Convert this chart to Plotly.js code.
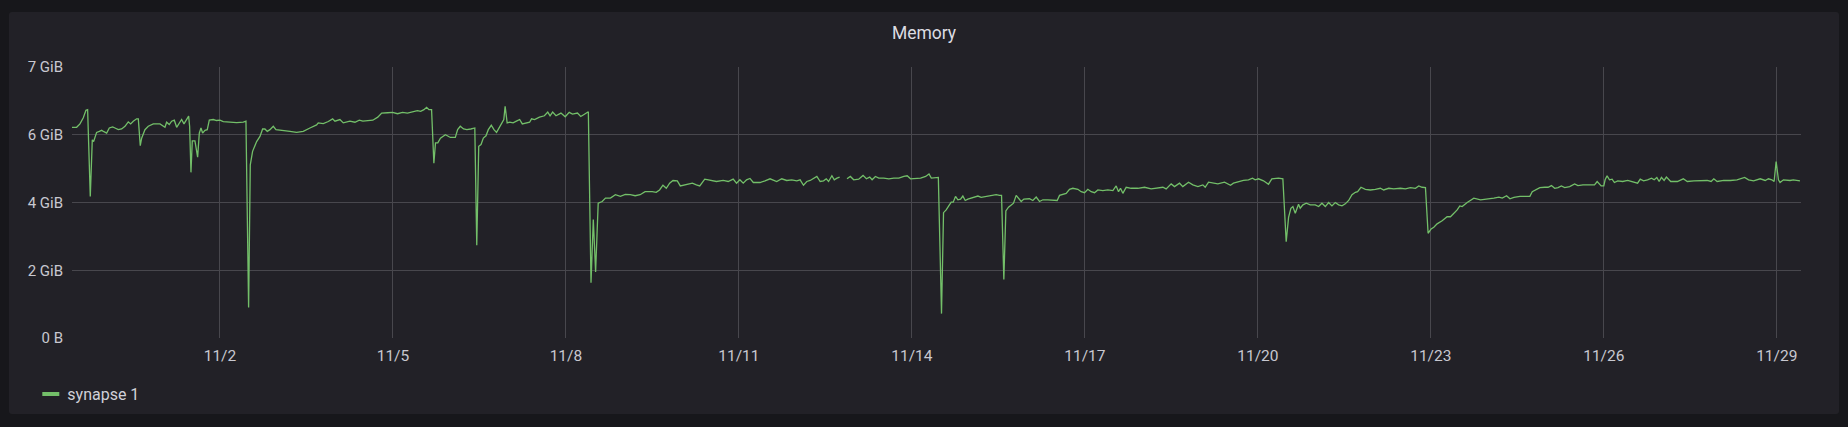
<!DOCTYPE html>
<html>
<head>
<meta charset="utf-8">
<script src="https://cdn.plot.ly/plotly-3.0.1.min.js"></script>
<style>
  html, body { margin: 0; padding: 0; background: #17171b; }
  #panel {
    position: absolute; left: 9px; top: 12px;
    width: 1830px; height: 402px;
    background: #222127; border-radius: 3px;
  }
</style>
</head>
<body>
<div id="panel"></div>
<script>
// days since 2020-11-01 00:00, memory in GiB (null = missing scrape)
const dayOffset = [
  // 10/30 - 11/3
  -1.566,-1.486,-1.428,-1.370,-1.324,-1.295,-1.249,-1.214,-1.191,-1.139,-1.092,-1.052,-1.012,-0.965,-0.919,-0.861,-0.821,-0.763,-0.705,-0.647,-0.590,-0.549,-0.503,-0.445,-0.416,-0.382,-0.358,-0.301,-0.243,-0.156,-0.040,0.046,0.075,0.121,0.162,0.208,0.249,0.295,0.335,0.376,0.422,0.457,0.474,0.497,0.520,0.566,0.613,0.642,0.671,0.699,0.740,0.780,0.815,0.884,0.942,1.000,1.058,1.173,1.289,1.405,1.451,1.497,1.526,1.566,1.636,1.694,1.740,1.780,1.821,1.867,1.925,1.971,2.040,2.214,2.329,2.445,2.561,2.676,2.705,2.792,2.879,2.954,2.994,3.081,3.139,3.254,3.341,3.416,
  // 11/4 - 11/9
  3.479,3.565,3.651,3.737,3.805,3.908,3.994,4.080,4.166,4.252,4.338,4.424,4.481,4.538,4.584,4.624,4.670,4.710,4.738,4.778,4.824,4.910,4.996,5.082,5.122,5.168,5.225,5.282,5.351,5.420,5.454,5.488,5.528,5.568,5.614,5.654,5.706,5.752,5.797,5.843,5.900,5.923,5.946,5.981,6.026,6.084,6.141,6.198,6.244,6.313,6.370,6.404,6.456,6.541,6.627,6.685,6.725,6.770,6.828,6.914,6.988,7.057,7.114,7.200,7.257,7.314,7.389,7.435,7.475,7.515,7.560,7.629,7.686,7.772,7.858,7.944,8.030,8.116,8.201,8.287,8.373,
  // 11/9 - 11/14
  8.497,8.566,8.624,8.683,8.741,8.799,8.857,8.932,8.984,9.089,9.193,9.263,9.321,9.408,9.495,9.611,9.727,9.814,9.901,9.959,10.017,10.075,10.133,10.192,10.250,10.366,10.453,10.540,10.656,10.743,10.830,10.917,11.004,11.062,11.120,11.178,11.236,11.306,11.352,11.410,11.468,11.515,11.555,11.613,11.654,11.701,11.747,11.81,11.875,11.933,11.991,12.078,12.153,12.211,12.269,12.310,12.368,12.426,12.513,12.600,12.687,12.774,12.861,12.919,12.977,13.064,13.151,13.239,13.297,13.337,13.413,13.459,
  // 11/14 - 11/19
  13.514,13.549,13.595,13.636,13.682,13.717,13.757,13.798,13.844,13.884,13.925,13.971,14.029,14.087,14.145,14.202,14.289,14.376,14.462,14.520,14.555,14.595,14.630,14.676,14.723,14.763,14.809,14.850,14.896,14.942,15.040,15.098,15.156,15.214,15.272,15.358,15.445,15.520,15.561,15.618,15.676,15.734,15.792,15.879,15.936,15.994,16.052,16.110,16.168,16.225,16.312,16.399,16.486,16.543,16.584,16.618,16.659,16.717,16.803,16.919,17.035,17.150,17.266,17.353,17.410,17.497,17.555,17.642,17.699,17.798,17.873,17.960,18.046,18.087,18.145,18.220,18.306,18.422,18.526,
  // 11/19 - 11/24
  18.577,18.664,18.751,18.838,18.907,18.954,19.012,19.098,19.185,19.243,19.301,19.359,19.434,19.492,19.533,19.573,19.608,19.649,19.706,19.735,19.782,19.840,19.909,19.996,20.054,20.112,20.170,20.228,20.285,20.343,20.401,20.459,20.517,20.575,20.633,20.691,20.731,20.789,20.864,20.951,21.038,21.125,21.183,21.270,21.357,21.472,21.559,21.646,21.733,21.791,21.849,21.907,21.953,22.005,22.052,22.109,22.196,22.283,22.341,22.399,22.457,22.503,22.544,22.631,22.688,22.746,22.862,22.978,23.094,23.181,23.239,23.314,23.372,23.441,23.545,
  // 11/24 - 11/29
  23.632,23.718,23.759,23.805,23.891,23.977,24.034,24.092,24.149,24.207,24.264,24.322,24.408,24.494,24.552,24.638,24.724,24.839,24.885,24.954,25.000,25.023,25.057,25.098,25.144,25.184,25.241,25.328,25.414,25.500,25.586,25.632,25.690,25.759,25.828,25.874,25.920,25.960,26.000,26.046,26.086,26.161,26.276,26.379,26.448,26.563,26.678,26.793,26.862,26.908,26.966,27.080,27.195,27.310,27.443,27.511,27.598,27.713,27.799,27.856,27.914,27.954,27.989,28.029,28.057,28.115,28.230,28.287,28.402
];

const memGiB = [
  // 10/30 - 11/3
  6.22,6.22,6.32,6.50,6.72,6.74,4.18,5.85,5.80,6.07,6.10,6.13,6.09,6.05,6.20,6.23,6.20,6.15,6.17,6.25,6.38,6.32,6.40,6.47,6.47,5.68,5.90,6.15,6.25,6.32,6.32,6.22,6.37,6.30,6.40,6.43,6.22,6.35,6.45,6.32,6.47,6.55,6.25,4.89,5.82,5.82,5.34,6.05,6.20,6.05,6.13,6.15,6.43,6.45,6.42,6.43,6.39,6.37,6.36,6.37,6.40,0.90,5.11,5.51,5.80,5.95,6.17,6.17,6.10,6.15,6.25,6.15,6.13,6.10,6.07,6.10,6.20,6.29,6.35,6.33,6.39,6.47,6.40,6.45,6.35,6.40,6.37,6.43,
  // 11/4 - 11/9
  6.40,6.42,6.43,6.52,6.64,6.65,6.66,6.62,6.66,6.64,6.68,6.71,6.69,6.74,6.81,6.74,6.74,5.16,5.76,5.76,5.90,6.00,5.92,5.92,6.15,6.25,6.17,6.15,6.17,6.20,2.74,5.66,5.71,5.90,5.97,6.15,6.28,6.15,6.07,6.22,6.37,6.45,6.84,6.35,6.37,6.35,6.40,6.45,6.32,6.35,6.37,6.47,6.45,6.52,6.56,6.67,6.56,6.67,6.56,6.64,6.53,6.66,6.61,6.64,6.54,6.60,6.68,1.63,3.50,1.95,3.98,4.03,4.13,4.13,4.23,4.18,4.24,4.23,4.20,4.23,4.32,
  // 11/9 - 11/14
  4.32,4.30,4.37,4.51,4.42,4.57,4.65,4.64,4.49,4.52,4.57,4.52,4.49,4.69,4.65,4.62,4.65,4.62,4.69,4.57,4.67,4.57,4.67,4.71,4.59,4.59,4.64,4.70,4.62,4.70,4.65,4.67,4.64,4.67,4.51,4.62,4.65,4.72,4.77,4.62,4.64,4.70,4.62,4.79,4.67,4.72,4.75,null,4.70,4.77,4.67,4.69,4.80,4.70,4.75,4.67,4.77,4.72,4.72,4.70,4.72,4.72,4.77,4.79,4.70,4.70,4.72,4.77,4.84,4.72,4.72,4.74,
  // 11/14 - 11/19
  0.72,3.70,3.78,3.90,4.01,4.01,4.18,4.08,4.10,4.19,4.06,4.10,4.13,4.18,4.19,4.15,4.18,4.21,4.23,4.21,4.21,1.73,3.75,3.86,3.93,3.98,4.21,4.13,4.03,4.10,4.11,4.06,4.16,4.03,4.08,4.08,4.08,4.06,4.21,4.25,4.27,4.39,4.42,4.39,4.32,4.29,4.39,4.32,4.29,4.37,4.35,4.37,4.35,4.49,4.32,4.42,4.27,4.45,4.42,4.42,4.45,4.40,4.42,4.45,4.40,4.55,4.47,4.57,4.47,4.60,4.52,4.47,4.52,4.45,4.60,4.57,4.55,4.60,4.51,
  // 11/19 - 11/24
  4.57,4.62,4.65,4.67,4.72,4.67,4.70,4.64,4.54,4.70,4.72,4.72,4.70,2.84,3.56,3.83,3.88,3.68,3.95,3.83,3.93,3.98,3.93,3.93,3.88,3.98,3.88,4.00,3.90,4.00,3.93,3.90,3.96,4.06,4.23,4.30,4.32,4.45,4.39,4.37,4.39,4.42,4.37,4.42,4.40,4.42,4.40,4.44,4.42,4.49,4.45,4.44,3.09,3.22,3.27,3.37,3.46,3.58,3.58,3.68,3.78,3.90,3.88,4.00,4.06,4.13,4.08,4.10,4.13,4.16,4.13,4.20,4.11,4.15,4.18,
  // 11/24 - 11/29
  4.18,4.18,4.32,4.37,4.44,4.45,4.45,4.50,4.42,4.44,4.49,4.44,4.47,4.55,4.50,4.52,4.52,4.52,4.62,4.49,4.49,4.67,4.79,4.67,4.69,4.59,4.64,4.62,4.65,4.62,4.57,4.69,4.64,4.67,4.72,4.67,4.74,4.62,4.74,4.65,4.75,4.62,4.62,4.70,4.62,4.64,4.65,4.65,4.62,4.70,4.62,4.65,4.65,4.67,4.74,4.67,4.64,4.70,4.65,4.70,4.67,4.62,5.21,4.67,4.59,4.67,4.65,4.67,4.64
];

const yTickVals = [0, 2, 4, 6, 8];
const yTickText = ["0 B", "2 GiB", "4 GiB", "6 GiB", "7 GiB"];
const seriesName = "synapse 1";

const baseMs = Date.UTC(2020, 10, 1);
const times = dayOffset.map(d => baseMs + d * 864e5);

const gridColor = "#48474d";

const trace = {
  x: times,
  y: memGiB,
  name: seriesName,
  type: "scatter",
  mode: "lines",
  connectgaps: false,
  line: { color: "#73bf69", width: 1.3 },
  hoverinfo: "skip"
};

const layout = {
  width: 1830,
  height: 402,
  paper_bgcolor: "rgba(0,0,0,0)",
  plot_bgcolor: "rgba(0,0,0,0)",
  margin: { l: 63, r: 38, t: 55, b: 76 },
  font: { family: "Roboto, 'Open Sans', sans-serif", size: 15, color: "#c8c8d0" },
  title: {
    text: "Memory",
    x: 0.5, xref: "container",
    y: 1 - 21 / 402, yref: "container", yanchor: "middle",
    font: { size: 17.5, color: "#dcdce2", weight: "normal" }
  },
  showlegend: true,
  legend: {
    orientation: "h",
    xref: "container", x: 0.010, xanchor: "left",
    yref: "container", y: 1 - 382 / 402, yanchor: "middle",
    font: { size: 16, color: "#d0d0d8" },
    bgcolor: "rgba(0,0,0,0)"
  },
  xaxis: {
    type: "date",
    range: ["2020-10-30 10:25", "2020-11-29 10:05"],
    tick0: "2020-11-02",
    dtick: 3 * 864e5,
    tickformat: "%-m/%-d",
    showgrid: true,
    gridcolor: gridColor,
    gridwidth: 1,
    zeroline: false,
    showline: false,
    ticks: "",
    ticklabelstandoff: 6,
    tickfont: { size: 15.5 },
    fixedrange: true
  },
  yaxis: {
    range: [0, 8],
    tickvals: yTickVals,
    ticktext: yTickText,
    showgrid: true,
    gridcolor: gridColor,
    gridwidth: 1,
    zeroline: false,
    showline: false,
    ticks: "",
    ticklabelstandoff: 8,
    fixedrange: true
  }
};

const config = { displayModeBar: false, staticPlot: true };

Plotly.newPlot("panel", [trace], layout, config).then(gd => {
  // Grafana-style short, thick legend swatch
  gd.querySelectorAll(".legendlines path").forEach(p => {
    p.setAttribute("d", "M15,0h17");
    p.style.strokeWidth = "4px";
  });
});
</script>
</body>
</html>
